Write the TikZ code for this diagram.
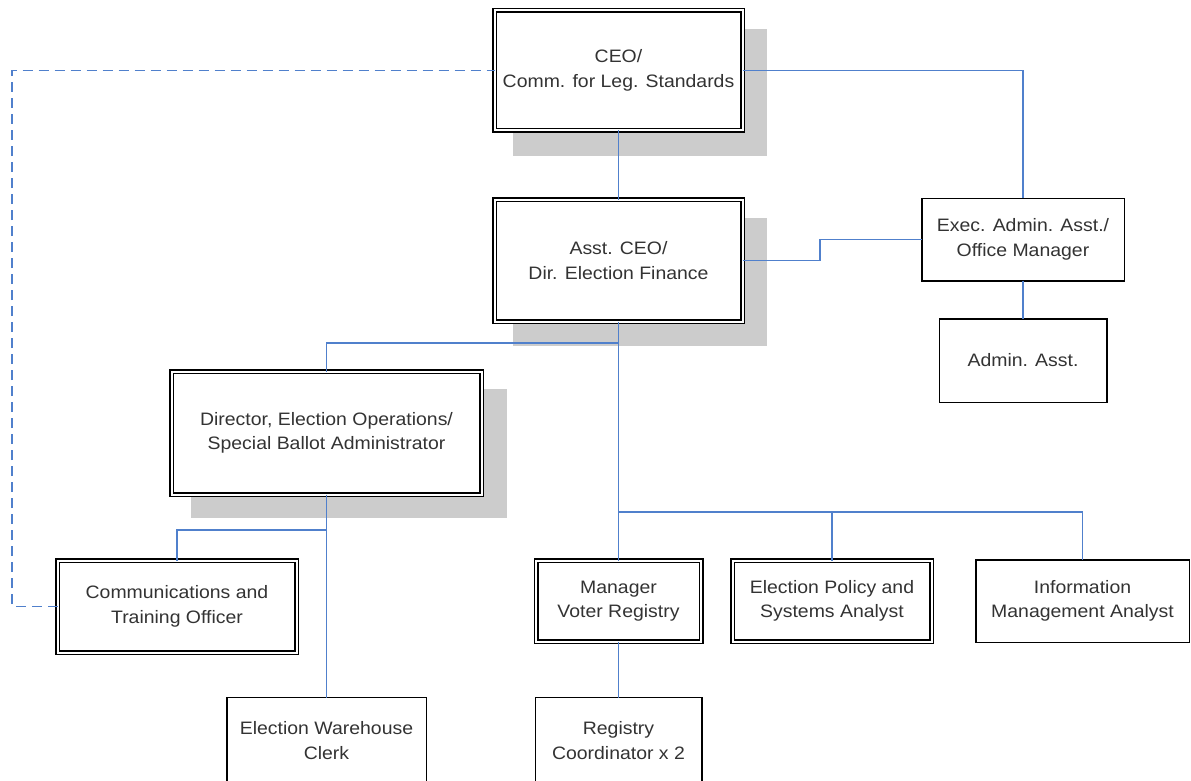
\documentclass[tikz,border=0pt]{standalone}
\usepackage{fontspec}
\setmainfont{Liberation Sans}[FakeStretch=1.08]
\usetikzlibrary{backgrounds}
\definecolor{conn}{HTML}{5080CC}
\definecolor{txt}{HTML}{333333}
\definecolor{shade}{HTML}{CCCCCC}
\begin{document}
\begin{tikzpicture}[x=1pt,y=-1pt,
  box/.style={draw=black, line width=1.5pt, fill=white, inner sep=0pt, outer sep=0pt,
    align=center, text=txt, font=\fontsize{18}{24.5}\selectfont},
  dbox/.style={box, double=white, double distance=2pt, line width=1.5pt},
  shadowfill/.style={fill=shade},
  conline/.style={draw=conn, line width=1.4pt},
  dashline/.style={conline, dash pattern=on 10pt off 6pt}]
\useasboundingbox (0,0) rectangle (1191,781);
\clip (0,0) rectangle (1191,781);

\node[dbox, minimum width=248pt, minimum height=120pt] (ceo) at (618.5,70.5)
  {CEO/\\Comm. for Leg. Standards};
\node[dbox, minimum width=248pt, minimum height=122pt] (asst) at (618.5,260.5)
  {Asst. CEO/\\Dir. Election Finance};
\node[dbox, minimum width=310pt, minimum height=123pt] (dir) at (326.5,433)
  {Director, Election Operations/\\Special Ballot Administrator};
\node[box, minimum width=202.5pt, minimum height=82.5pt] (exec) at (1023,239.5)
  {Exec. Admin. Asst./\\Office Manager};
\node[box, minimum width=167.5pt, minimum height=83.5pt] (admin) at (1023,360.5)
  {Admin. Asst.};
\node[dbox, minimum width=239pt, minimum height=92pt] (comm) at (177,606.5)
  {Communications and\\Training Officer};
\node[dbox, minimum width=165pt, minimum height=81pt] (mgr) at (618.5,601)
  {Manager\\Voter Registry};
\node[dbox, minimum width=199pt, minimum height=81pt] (policy) at (832,601)
  {Election Policy and\\Systems Analyst};
\node[box, minimum width=213.5pt, minimum height=82.5pt] (info) at (1082.5,601)
  {Information\\Management Analyst};
\node[box, minimum width=199.5pt, minimum height=86pt] (wh) at (326.5,740.5)
  {Election Warehouse\\Clerk};
\node[box, minimum width=166.5pt, minimum height=86pt] (reg) at (618.5,740.5)
  {Registry\\Coordinator x 2};

\begin{scope}[on background layer]
\fill[white] (0,0) rectangle (1191,781);
\fill[shadowfill] ([shift={(18.5,18.5)}]ceo.north west) rectangle ([shift={(24.5,25.5)}]ceo.south east);
\fill[shadowfill] ([shift={(18.5,18.5)}]asst.north west) rectangle ([shift={(24.5,24.5)}]asst.south east);
\fill[shadowfill] ([shift={(19.5,17.5)}]dir.north west) rectangle ([shift={(25.5,23.5)}]dir.south east);
\end{scope}

\coordinate (j1) at (618.5,343);
\coordinate (j2) at (618.5,512);
\coordinate (j3) at (326.5,530);
\coordinate (jog) at (820,250);
\coordinate (dl) at (12,300);

\draw[conline] (ceo.south) -- (asst.north);
\draw[conline] (ceo.east) -| (exec.north);
\draw[conline] (asst.east) -| (jog) |- (exec.west);
\draw[conline] (exec.south) -- (admin.north);
\draw[conline] (asst.south) -- (j1) -| (dir.north);
\draw[conline] (j1) -- (mgr.north);
\draw[conline] (j2) -| (policy.north);
\draw[conline] (j2) -| (info.north);
\draw[conline] (dir.south) -- (wh.north);
\draw[conline] (j3) -| (comm.north);
\draw[conline] (mgr.south) -- (reg.north);
\draw[dashline] (comm.west) -| (dl) |- (ceo.west);
\end{tikzpicture}
\end{document}
